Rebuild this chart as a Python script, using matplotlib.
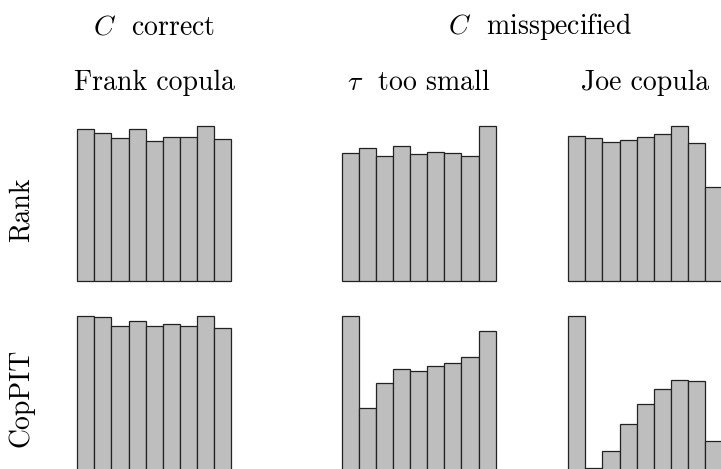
import numpy as np
import matplotlib
matplotlib.use("Agg")
import matplotlib.pyplot as plt

plt.rcParams['font.family'] = ['cmr10']
plt.rcParams['mathtext.fontset'] = 'cm'
plt.rcParams['axes.unicode_minus'] = False

# Relative bin heights (9 bins)
rank_frank = [151.4, 148.0, 142.4, 152.0, 140.0, 143.7, 144.0, 154.4, 141.7]
rank_tau = [127.4, 132.0, 124.4, 134.4, 126.4, 128.7, 127.7, 124.0, 154.0]
rank_joe = [144.7, 142.0, 138.0, 140.0, 143.7, 146.4, 154.0, 137.4, 93.4]
coppit_frank = [154.4, 152.8, 143.8, 149.4, 144.4, 146.1, 143.8, 153.8, 141.8]
coppit_tau = [154.4, 62.4, 87.4, 101.4, 98.8, 104.1, 107.1, 113.1, 139.1]
coppit_joe = [154.4, 2.4, 19.1, 45.8, 66.1, 80.8, 90.4, 89.4, 29.4]

col_titles = [r"Frank copula", r"$\tau$  too small", r"Joe copula"]
group_titles = [r"$C$  correct", r"$C$  misspecified"]
row_labels = ["Rank", "CopPIT"]

data = [[rank_frank, rank_tau, rank_joe],
        [coppit_frank, coppit_tau, coppit_joe]]

W, H = 721, 469
fig = plt.figure(figsize=(W / 100, H / 100), dpi=100)

col_x = [(77.3, 231.0), (341.7, 495.7), (568.3, 722.0)]
row_y = [(126.4, 280.7), (315.7, 470.1)]  # (top, bottom) in pixels

def px_rect(x0, x1, ytop, ybot):
    return [x0 / W, 1 - ybot / H, (x1 - x0) / W, (ybot - ytop) / H]

for r in range(2):
    for c in range(3):
        x0, x1 = col_x[c]
        yt, yb = row_y[r]
        ax = fig.add_axes(px_rect(x0, x1, yt, yb))
        vals = data[r][c]
        bars = ax.bar(np.arange(len(vals)), vals, width=1.0, color='#bebebe',
                      edgecolor='#222222', linewidth=0.9, align='center')
        for b in bars:
            b.set_clip_on(False)
        ax.set_xlim(-0.5, len(vals) - 0.5)
        ax.set_ylim(0, max(vals))
        ax.axis('off')

fs = 20
# group titles
fig.text(154 / W, 1 - 27 / H, group_titles[0], ha='center', va='center', fontsize=fs)
fig.text(540 / W, 1 - 27 / H, group_titles[1], ha='center', va='center', fontsize=fs)
# column titles
for c, t in enumerate(col_titles):
    cx = (col_x[c][0] + col_x[c][1]) / 2
    fig.text(cx / W, 1 - 83 / H, t, ha='center', va='center', fontsize=fs)
# row labels
fig.text(21 / W, 1 - 210 / H, row_labels[0], ha='center', va='center', rotation=90, fontsize=fs)
fig.text(21 / W, 1 - 398 / H, row_labels[1], ha='center', va='center', rotation=90, fontsize=fs)

fig.savefig("out.png", dpi=100)
